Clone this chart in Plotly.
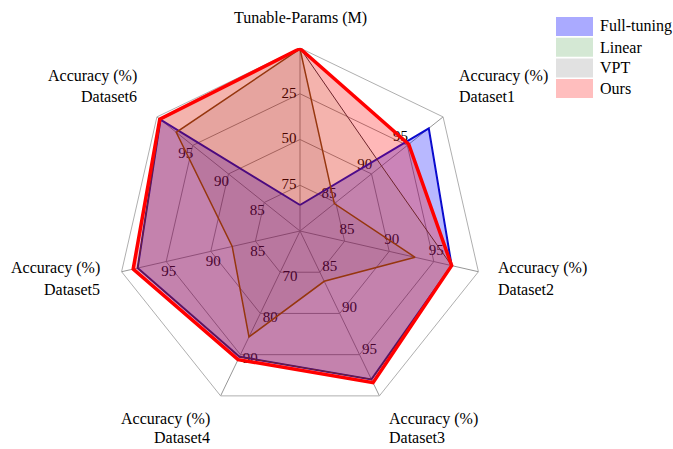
import math
import plotly.graph_objects as go

# Radar axes, clockwise from the top
axis_names = ["Tunable-Params (M)", "Dataset1", "Dataset2", "Dataset3",
              "Dataset4", "Dataset5", "Dataset6"]
axis_line1 = ["Tunable-Params (M)", "Accuracy (%)", "Accuracy (%)", "Accuracy (%)",
              "Accuracy (%)", "Accuracy (%)", "Accuracy (%)"]
axis_line2 = ["", "Dataset1", "Dataset2", "Dataset3", "Dataset4", "Dataset5", "Dataset6"]
# value at the centre and at the rim of every axis
axis_centre = [100, 80, 80, 80, 60, 80, 80]
axis_rim = [0, 100, 100, 100, 100, 100, 100]
tick_vals = [[0, 25, 50, 75],
             [85, 90, 95, 100],
             [85, 90, 95, 100],
             [85, 90, 95, 100],
             [70, 80, 90, 100],
             [85, 90, 95, 100],
             [85, 90, 95, 100]]

series_names = ["Full-tuning", "Linear", "VPT", "Ours"]
full_tuning = [85.8, 98.0, 97.0, 98.0, 90.5, 98.2, 99.5]
linear = [0.04, 91.4, 97.0, 98.0, 90.5, 98.2, 99.5]
vpt = [0.5, 84.8, 92.9, 86.1, 85.7, 87.6, 97.3]
ours = [0.3, 95.2, 97.0, 98.4, 91.2, 98.7, 99.6]

fill_colors = ["rgba(0,0,255,0.28)", "rgba(0,128,0,0.06)",
               "rgba(0,0,0,0.08)", "rgba(255,0,0,0.28)"]
line_colors = ["rgb(10,10,205)", "rgb(55,50,60)", "rgb(110,75,20)", "rgb(255,0,0)"]
line_widths = [2, 1, 1.5, 3.5]
legend_colors = ["rgb(170,170,255)", "rgb(212,232,212)", "rgb(225,225,225)", "rgb(255,190,190)"]

W, H = 673, 449
CX, CY, R = 300, 231, 183
FONT = "Liberation Serif, Times New Roman, serif"

n_axes = len(axis_names)
step = 360.0 / n_axes
angles = [i * step for i in range(n_axes)]


def to_frac(i, v):
    return (v - axis_centre[i]) / (axis_rim[i] - axis_centre[i])


fig = go.Figure()

# background grid subplot (category axis gives polygon grid)
fig.add_trace(go.Scatterpolar(
    r=[0] * n_axes, theta=axis_names, mode="markers",
    marker=dict(opacity=0), hoverinfo="skip", showlegend=False, subplot="polar"))

# tick labels sit just beside each spoke (drawn first so fills tint them)
off = 11.0 / R
lab_r, lab_t, lab_txt = [], [], []
for i in range(n_axes):
    for v in tick_vals[i]:
        f = to_frac(i, v)
        lab_r.append(math.hypot(f, off))
        lab_t.append(angles[i] - math.degrees(math.atan2(off, f)))
        lab_txt.append(str(v))
fig.add_trace(go.Scatterpolar(
    r=lab_r, theta=lab_t, text=lab_txt, mode="text",
    textfont=dict(family=FONT, size=15, color="black"),
    hoverinfo="skip", showlegend=False, subplot="polar2"))

for k, vals in enumerate([full_tuning, linear, vpt, ours]):
    rr = [to_frac(i, v) for i, v in enumerate(vals)]
    fig.add_trace(go.Scatterpolar(
        r=rr + rr[:1], theta=angles + angles[:1], mode="lines",
        fill="toself", fillcolor=fill_colors[k],
        line=dict(color=line_colors[k], width=line_widths[k]),
        name=series_names[k], showlegend=False, subplot="polar2"))

dom_x = [(CX - R) / W, (CX + R) / W]
dom_y = [(H - CY - R) / H, (H - CY + R) / H]

fig.update_layout(
    width=W, height=H, margin=dict(l=0, r=0, t=0, b=0),
    paper_bgcolor="white", plot_bgcolor="white",
    polar=dict(
        domain=dict(x=dom_x, y=dom_y), bgcolor="rgba(0,0,0,0)",
        gridshape="linear",
        radialaxis=dict(range=[0, 1], tickvals=[0.25, 0.5, 0.75], showticklabels=False,
                        ticks="", showline=False, gridcolor="rgb(150,150,150)", gridwidth=1),
        angularaxis=dict(type="category", categoryarray=axis_names, rotation=90,
                         direction="clockwise", showticklabels=False, ticks="",
                         showline=True, linecolor="rgb(175,175,175)", linewidth=1,
                         gridcolor="rgb(150,150,150)", gridwidth=1),
    ),
    polar2=dict(
        domain=dict(x=dom_x, y=dom_y), bgcolor="rgba(0,0,0,0)",
        radialaxis=dict(range=[0, 1], visible=False),
        angularaxis=dict(rotation=90, direction="clockwise", visible=False),
    ),
)

# axis titles, one annotation per text line
title_pos = [(300, 18, 0, "center"), (458, 76, 97, "left"),
             (497, 268, 289, "left"), (388, 419, 437, "left"),
             (211, 419, 437, "right"), (101, 268, 289, "right"),
             (138, 76, 97, "right")]
for t1, t2, (px, py1, py2, xa) in zip(axis_line1, axis_line2, title_pos):
    for txt, py in ((t1, py1), (t2, py2)):
        if not txt:
            continue
        fig.add_annotation(x=px / W, y=1 - py / H, xref="paper", yref="paper",
                           text=txt, showarrow=False, xanchor=xa, yanchor="middle",
                           borderpad=0,
                           font=dict(family=FONT, size=16, color="black"))

# legend drawn as colour patches with labels
for k, name in enumerate(series_names):
    y0 = 17 + k * 20.7
    fig.add_shape(type="rect", xref="paper", yref="paper",
                  x0=556 / W, x1=593 / W, y0=1 - (y0 + 19) / H, y1=1 - y0 / H,
                  fillcolor=legend_colors[k], line=dict(width=0))
    fig.add_annotation(x=598 / W, y=1 - (y0 + 9.5) / H, xref="paper", yref="paper",
                       text=name, showarrow=False, xanchor="left", yanchor="middle",
                       font=dict(family=FONT, size=16, color="black"))

fig.write_html("out.html")
